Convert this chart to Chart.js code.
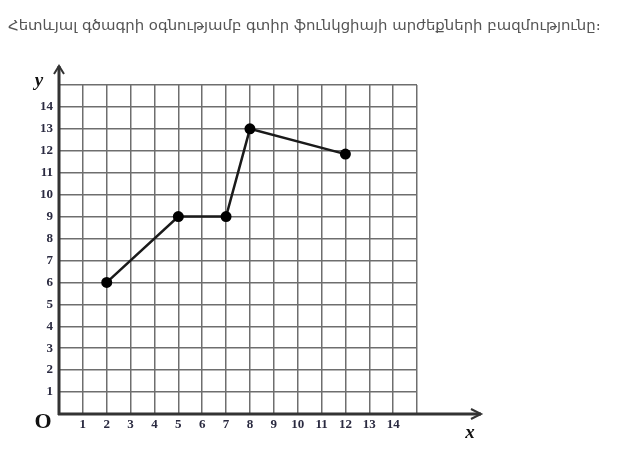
<!DOCTYPE html>
<html>
<head>
<meta charset="utf-8">
<script src="https://cdn.jsdelivr.net/npm/chart.js@4/dist/chart.umd.min.js"></script>
<style>
html,body{margin:0;padding:0;background:#fff;}
canvas{display:block;}
</style>
</head>
<body>
<canvas id="c" width="642" height="450"></canvas>
<script>
const titleText = "Հետևյալ գծագրի օգնությամբ գտիր ֆունկցիայի արժեքների բազմությունը։";
const xValues = [2, 5, 7, 8, 12];
const yValues = [6, 9, 9, 13, 11.85];
const xTickLabels = ["1","2","3","4","5","6","7","8","9","10","11","12","13","14"];
const yTickLabels = ["1","2","3","4","5","6","7","8","9","10","11","12","13","14"];
const axisMax = 15;

const points = xValues.map((x, i) => ({x: x, y: yValues[i]}));
const tickFont = {family: "'Liberation Serif', 'Times New Roman', serif", size: 13, weight: 'bold'};
const tickColor = '#2a2a40';

const decor = {
  id: 'decor',
  beforeDraw(chart) {
    const ctx = chart.ctx;
    ctx.save();
    ctx.fillStyle = '#fff';
    ctx.fillRect(0, 0, chart.width, chart.height);
    ctx.restore();
  },
  afterDraw(chart) {
    const ctx = chart.ctx;
    const xs = chart.scales.x, ys = chart.scales.y;
    const x0 = xs.getPixelForValue(0), y0 = ys.getPixelForValue(0);
    const yTop = ys.getPixelForValue(axisMax);
    const xRight = xs.getPixelForValue(axisMax);
    ctx.save();
    // title
    ctx.fillStyle = '#555';
    ctx.textBaseline = 'middle';
    ctx.textAlign = 'left';
    let fs = 16;
    ctx.font = fs + "px 'DejaVu Sans', sans-serif";
    const w = ctx.measureText(titleText).width;
    fs = fs * 593 / w;
    ctx.font = fs + "px 'DejaVu Sans', sans-serif";
    ctx.fillText(titleText, 8, 26);
    // axes
    ctx.strokeStyle = '#333';
    ctx.lineWidth = 3;
    ctx.lineCap = 'butt';
    ctx.beginPath();
    ctx.moveTo(x0, y0 + 1);
    ctx.lineTo(x0, yTop - 19);
    ctx.moveTo(x0 - 1, y0);
    ctx.lineTo(xRight + 64, y0);
    ctx.stroke();
    ctx.lineWidth = 2;
    ctx.beginPath();
    ctx.moveTo(x0 - 5, yTop - 11);
    ctx.lineTo(x0, yTop - 19);
    ctx.lineTo(x0 + 5, yTop - 11);
    ctx.moveTo(xRight + 54, y0 - 5);
    ctx.lineTo(xRight + 64, y0);
    ctx.lineTo(xRight + 54, y0 + 5);
    ctx.stroke();
    // labels
    ctx.fillStyle = '#111';
    ctx.textAlign = 'center';
    ctx.font = "italic bold 19px 'Liberation Serif', serif";
    ctx.fillText('y', x0 - 20, yTop - 4);
    ctx.fillText('x', xRight + 53, y0 + 19);
    ctx.font = "bold 22px 'Liberation Serif', serif";
    ctx.fillText('O', x0 - 16, y0 + 8);
    ctx.restore();
  }
};

new Chart(document.getElementById('c'), {
  type: 'scatter',
  data: {
    datasets: [{
      data: points,
      showLine: true,
      borderColor: '#1a1a1a',
      borderWidth: 2.5,
      pointRadius: 5.5,
      pointHoverRadius: 5.5,
      pointBackgroundColor: '#000',
      pointBorderColor: '#000',
      pointBorderWidth: 0,
      tension: 0
    }]
  },
  options: {
    responsive: false,
    animation: false,
    devicePixelRatio: 1,
    layout: {padding: {left: 0, top: 85, right: 225, bottom: 0}},
    plugins: {legend: {display: false}, tooltip: {enabled: false}, title: {display: false}},
    scales: {
      x: {
        type: 'linear', min: 0, max: axisMax,
        border: {display: false},
        grid: {color: ctx => ctx.tick.value === 0 ? 'rgba(0,0,0,0)' : '#6e6e6e', lineWidth: 1.5, drawTicks: false},
        ticks: {stepSize: 1, padding: 3, color: tickColor, font: tickFont, maxRotation: 0, autoSkip: false,
          callback: v => (v >= 1 && v <= xTickLabels.length) ? xTickLabels[v - 1] : ''},
        afterFit: s => { s.height = 36; }
      },
      y: {
        type: 'linear', min: 0, max: axisMax,
        border: {display: false},
        grid: {color: ctx => ctx.tick.value === 0 ? 'rgba(0,0,0,0)' : '#6e6e6e', lineWidth: 1.5, drawTicks: false},
        ticks: {stepSize: 1, padding: 6, color: tickColor, font: tickFont, autoSkip: false,
          callback: v => (v >= 1 && v <= yTickLabels.length) ? yTickLabels[v - 1] : ''},
        afterFit: s => { s.width = 59; }
      }
    }
  },
  plugins: [decor]
});
</script>
</body>
</html>
